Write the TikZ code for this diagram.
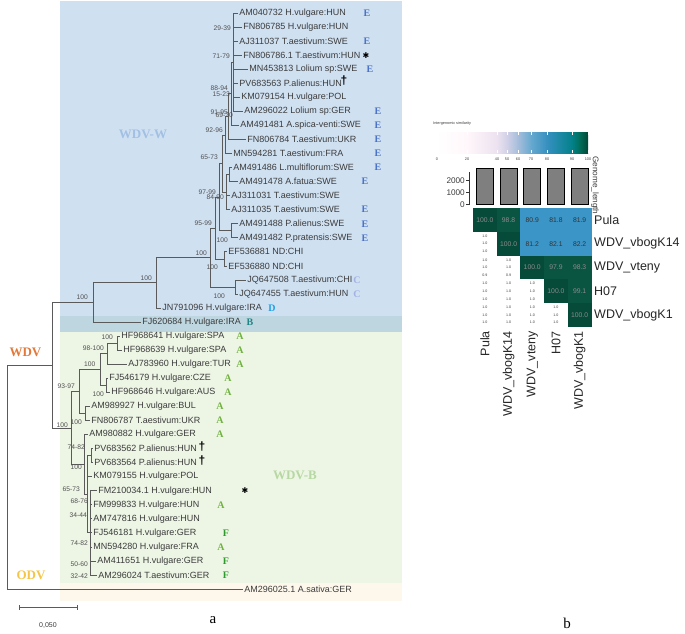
\documentclass[tikz,border=0pt]{standalone}
\usepackage{fontspec}
\setmainfont{Liberation Sans}
\newfontfamily\lsserif{Liberation Serif}
\newfontfamily\djv{DejaVu Sans}
\definecolor{txtgray}{HTML}{3C3C3C}
\definecolor{bootgray}{HTML}{505050}
\definecolor{linegray}{HTML}{5A5A5A}
\definecolor{blueR}{HTML}{CFE0F1}
\definecolor{bandB}{HTML}{BDD6DF}
\definecolor{greenR}{HTML}{EDF5E5}
\definecolor{creamR}{HTML}{FDF8EB}
\definecolor{eblue}{HTML}{4A72C8}
\definecolor{cblue}{HTML}{A3B1E3}
\definecolor{dblue}{HTML}{1E9FE3}
\definecolor{bteal}{HTML}{1F8585}
\definecolor{agreen}{HTML}{72B240}
\definecolor{fgreen}{HTML}{2E9A2E}
\definecolor{wdvorange}{HTML}{E2793A}
\definecolor{odvyellow}{HTML}{F5C548}
\definecolor{wdvwblue}{HTML}{A2C0E4}
\definecolor{wdvbgreen}{HTML}{B7D8A2}
\definecolor{cb0}{HTML}{FFFFFF}
\definecolor{cb1}{HTML}{FFF7FB}
\definecolor{cb2}{HTML}{ECE2F0}
\definecolor{cb3}{HTML}{D0D1E6}
\definecolor{cb4}{HTML}{A6BDDB}
\definecolor{cb5}{HTML}{67A9CF}
\definecolor{cb6}{HTML}{3690C0}
\definecolor{cb7}{HTML}{02818A}
\definecolor{cb8}{HTML}{016C59}
\definecolor{cb9}{HTML}{014636}
\definecolor{hmG}{HTML}{064A39}
\definecolor{hmG2}{HTML}{0A5442}
\definecolor{hmB}{HTML}{3C95C7}
\definecolor{bargray}{HTML}{7F7F7F}
\begin{document}
\begin{tikzpicture}[x=1pt,y=-1pt,
  tip/.style={anchor=west,inner xsep=1.2pt,inner ysep=0pt,font=\fontsize{9}{10}\selectfont,text=txtgray},
  boot/.style={anchor=east,inner sep=0pt,font=\fontsize{6.7}{7}\selectfont,text=bootgray},
  br/.style={draw=linegray,line width=0.75pt},
  lett/.style={inner sep=0pt,font=\lsserif\bfseries\fontsize{10}{10}\selectfont},
  symb/.style={inner sep=0pt,text=black},
  clade/.style={inner sep=0pt,font=\lsserif\bfseries\fontsize{13}{13}\selectfont},
  cellnum/.style={inner sep=0pt,font=\fontsize{6.8}{7}\selectfont},
  tiny/.style={inner sep=0pt,font=\fontsize{3.6}{4}\selectfont,text=txtgray},
  axlab/.style={inner sep=0pt,font=\fontsize{8.2}{9}\selectfont,text=txtgray},
  hmlab/.style={inner sep=0pt,font=\fontsize{12.5}{13}\selectfont,text=black!85}]
\useasboundingbox (0,0) rectangle (685,633);
% clade backgrounds
\fill[blueR] (60,1) rectangle (402,315.5);
\fill[bandB] (60,315.5) rectangle (402,331.5);
\fill[greenR] (60,331.5) rectangle (402,582.5);
\fill[creamR] (60,582.5) rectangle (402,600.5);
% tips
\node[tip] (t0) at (238,13) {AM040732 H.vulgare:HUN};
\node[tip] (t1) at (242,27.05) {FN806785 H.vulgare:HUN};
\node[tip] (t2) at (238,41.1) {AJ311037 T.aestivum:SWE};
\node[tip] (t3) at (242,55.15) {FN806786.1 T.aestivum:HUN};
\node[tip] (t4) at (248,69.2) {MN453813 Lolium sp:SWE};
\node[tip] (t5) at (238,83.25) {PV683563 P.alienus:HUN};
\node[tip] (t6) at (240,97.3) {KM079154 H.vulgare:POL};
\node[tip] (t7) at (243,111.35) {AM296022 Lolium sp:GER};
\node[tip] (t8) at (239,125.4) {AM491481 A.spica-venti:SWE};
\node[tip] (t9) at (246,139.45) {FN806784 T.aestivum:UKR};
\node[tip] (t10) at (232,153.5) {MN594281 T.aestivum:FRA};
\node[tip] (t11) at (232,167.55) {AM491486 L.multiflorum:SWE};
\node[tip] (t12) at (238,181.6) {AM491478 A.fatua:SWE};
\node[tip] (t13) at (230,195.65) {AJ311031 T.aestivum:SWE};
\node[tip] (t14) at (230,209.7) {AJ311035 T.aestivum:SWE};
\node[tip] (t15) at (238,223.75) {AM491488 P.alienus:SWE};
\node[tip] (t16) at (238,237.8) {AM491482 P.pratensis:SWE};
\node[tip] (t17) at (227,251.85) {EF536881 ND:CHI};
\node[tip] (t18) at (227,265.9) {EF536880 ND:CHI};
\node[tip] (t19) at (246,279.95) {JQ647508 T.aestivum:CHI};
\node[tip] (t20) at (238,294) {JQ647455 T.aestivum:HUN};
\node[tip] (t21) at (161,308.05) {JN791096 H.vulgare:IRA};
\node[tip] (t22) at (141,322.1) {FJ620684 H.vulgare:IRA};
\node[tip] (t23) at (120,336.15) {HF968641 H.vulgare:SPA};
\node[tip] (t24) at (122,350.2) {HF968639 H.vulgare:SPA};
\node[tip] (t25) at (127,364.25) {AJ783960 H.vulgare:TUR};
\node[tip] (t26) at (108,378.3) {FJ546179 H.vulgare:CZE};
\node[tip] (t27) at (110,392.35) {HF968646 H.vulgare:AUS};
\node[tip] (t28) at (90,406.4) {AM989927 H.vulgare:BUL};
\node[tip] (t29) at (90,420.45) {FN806787 T.aestivum:UKR};
\node[tip] (t30) at (88,434.5) {AM980882 H.vulgare:GER};
\node[tip] (t31) at (93,448.55) {PV683562 P.alienus:HUN};
\node[tip] (t32) at (93,462.6) {PV683564 P.alienus:HUN};
\node[tip] (t33) at (92,476.65) {KM079155 H.vulgare:POL};
\node[tip] (t34) at (97,490.7) {FM210034.1 H.vulgare:HUN};
\node[tip] (t35) at (92,504.75) {FM999833 H.vulgare:HUN};
\node[tip] (t36) at (92,518.8) {AM747816 H.vulgare:HUN};
\node[tip] (t37) at (92,532.85) {FJ546181 H.vulgare:GER};
\node[tip] (t38) at (92,546.9) {MN594280 H.vulgare:FRA};
\node[tip] (t39) at (96,560.95) {AM411651 H.vulgare:GER};
\node[tip] (t40) at (97,575) {AM296024 T.aestivum:GER};
\node[tip] (t41) at (243,589.05) {AM296025.1 A.sativa:GER};
% internal nodes
\coordinate (nP) at (233,62.18);
\coordinate (nQ) at (231,93.79);
\coordinate (nR) at (228,116.62);
\coordinate (nS) at (225,135.06);
\coordinate (nE1) at (229,174.58);
\coordinate (nE2) at (226,192.14);
\coordinate (nT) at (222,163.6);
\coordinate (nPA) at (231,230.78);
\coordinate (nB) at (219,197.19);
\coordinate (nEF) at (224,258.88);
\coordinate (nA) at (215,228.03);
\coordinate (nJQ) at (235,286.98);
\coordinate (nW2) at (210,257.5);
\coordinate (nW) at (156,282.78);
\coordinate (nWB) at (93,302.44);
\coordinate (nHF) at (117,343.18);
\coordinate (nA2) at (107,353.71);
\coordinate (nFJ) at (106,385.33);
\coordinate (nA3) at (100,369.52);
\coordinate (nBul) at (85,413.43);
\coordinate (nB2) at (79,391.47);
\coordinate (nPV) at (91,455.58);
\coordinate (nLow) at (90,532.85);
\coordinate (nMid) at (87,494.21);
\coordinate (nB5) at (84,464.36);
\coordinate (nB1) at (71,427.9);
\coordinate (nWDV) at (52,365.17);
\coordinate (nRoot) at (7,477.11);
% branches
\draw[br] (nRoot) |- (nWDV);
\draw[br] (nRoot) |- (t41.west);
\draw[br] (nWDV) |- (nWB);
\draw[br] (nWDV) |- (nB1);
\draw[br] (nWB) |- (nW);
\draw[br] (nWB) |- (t22.west);
\draw[br] (nW) |- (nW2);
\draw[br] (nW) |- (t21.west);
\draw[br] (nW2) |- (nA);
\draw[br] (nW2) |- (nJQ);
\foreach \c in {t19,t20} \draw[br] (nJQ) |- (\c.west);
\draw[br] (nA) |- (nB);
\draw[br] (nA) |- (nEF);
\foreach \c in {t17,t18} \draw[br] (nEF) |- (\c.west);
\draw[br] (nB) |- (nT);
\draw[br] (nB) |- (nPA);
\foreach \c in {t15,t16} \draw[br] (nPA) |- (\c.west);
\draw[br] (nT) |- (nS);
\draw[br] (nT) |- (nE2);
\draw[br] (nE2) |- (nE1);
\foreach \c in {t13,t14} \draw[br] (nE2) |- (\c.west);
\foreach \c in {t11,t12} \draw[br] (nE1) |- (\c.west);
\draw[br] (nS) |- (nR);
\draw[br] (nS) |- (t10.west);
\draw[br] (nR) |- (nQ);
\draw[br] (nR) |- (t9.west);
\draw[br] (nQ) |- (nP);
\draw[br] (nQ) |- (t8.west);
\foreach \c in {t0,t1,t2,t3,t4,t5,t6,t7} \draw[br] (nP) |- (\c.west);
\draw[br] (nB1) |- (nB2);
\draw[br] (nB1) |- (nB5);
\draw[br] (nB2) |- (nA3);
\draw[br] (nB2) |- (nBul);
\draw[br] (nA3) |- (nA2);
\draw[br] (nA3) |- (nFJ);
\draw[br] (nA2) |- (nHF);
\draw[br] (nA2) |- (t25.west);
\foreach \c in {t23,t24} \draw[br] (nHF) |- (\c.west);
\foreach \c in {t26,t27} \draw[br] (nFJ) |- (\c.west);
\foreach \c in {t28,t29} \draw[br] (nBul) |- (\c.west);
\draw[br] (nB5) |- (t30.west);
\draw[br] (nB5) |- (nMid);
\draw[br] (nMid) |- (nPV);
\draw[br] (nMid) |- (t33.west);
\draw[br] (nMid) |- (nLow);
\foreach \c in {t31,t32} \draw[br] (nPV) |- (\c.west);
\foreach \c in {t34,t35,t36,t37,t38,t39,t40} \draw[br] (nLow) |- (\c.west);
% bootstrap values
\node[boot] (b1) at (231,28) {29-39};
\node[boot] (b2) at (230,56) {71-79};
\node[boot] (b3) at (228,88) {88-94};
\node[boot] (b4) at (230,94.5) {15-23};
\node[boot] (b5) at (228,112) {91-95};
\node[boot] (b6) at (233,115) {69-70};
\node[boot] (b7) at (223,130.5) {92-96};
\node[boot] (b8) at (218,157) {65-73};
\node[boot] (b9) at (216,192) {97-99};
\node[boot] (b10) at (224,197.5) {84-90};
\node[boot] (b11) at (212,223) {95-99};
\node[boot] (b12) at (228,240.5) {100};
\node[boot] (b13) at (207,253) {100};
\node[boot] (b14) at (218,267.5) {100};
\node[boot] (b15) at (225,296.5) {100};
\node[boot] (b16) at (152,278) {100};
\node[boot] (b17) at (88,297) {100};
\node[boot] (b18) at (113,337) {100};
\node[boot] (b19) at (104,348.5) {98-100};
\node[boot] (b20) at (95.5,364) {100};
\node[boot] (b21) at (104,394) {100};
\node[boot] (b22) at (75,386.5) {93-97};
\node[boot] (b23) at (68,425) {100};
\node[boot] (b24) at (82,422) {100};
\node[boot] (b25) at (85,447) {74-82};
\node[boot] (b26) at (82,467) {100};
\node[boot] (b27) at (80,489) {65-73};
\node[boot] (b28) at (88,501) {68-76};
\node[boot] (b29) at (87,515) {34-44};
\node[boot] (b30) at (88,543) {74-82};
\node[boot] (b31) at (88,564) {50-60};
\node[boot] (b32) at (88,576) {32-42};
% genotype letters
\foreach \x/\y [count=\i] in {367/13,367/41.1,370/69.2,378/111.35,378/125.4,378/139.45,378/153.5,378/167.55,365/181.6,365/209.7,365/223.75,365/237.8}
  \node[lett,text=eblue] (e\i) at (\x,\y) {E};
\node[lett,text=cblue] (c1) at (357,279.95) {C};
\node[lett,text=cblue] (c2) at (357,294) {C};
\node[lett,text=dblue] (d1) at (272,308.05) {D};
\node[lett,text=bteal] (bb1) at (250,322.1) {B};
\foreach \x/\y [count=\i] in {240/336.15,240/350.2,240/364.25,228/378.3,228/392.35,220/406.4,220/420.45,220/434.5,221/504.75,221/546.9}
  \node[lett,text=agreen] (a\i) at (\x,\y) {A};
\foreach \x/\y [count=\i] in {226/532.85,226/560.95,226/575}
  \node[lett,text=fgreen] (f\i) at (\x,\y) {F};
% daggers and asterisks
\node[symb,font=\bfseries\fontsize{12}{12}\selectfont] (dg1) at (344,81) {†};
\node[symb,font=\bfseries\fontsize{12}{12}\selectfont] (dg2) at (202,447) {†};
\node[symb,font=\bfseries\fontsize{12}{12}\selectfont] (dg3) at (202,461) {†};
\node[symb,font=\djv\bfseries\fontsize{8}{8}\selectfont] (as1) at (366,55.15) {✱};
\node[symb,font=\djv\bfseries\fontsize{8}{8}\selectfont] (as2) at (245,490.7) {✱};
% clade names
\node[clade,text=wdvwblue] (lw) at (143,134) {WDV-W};
\node[clade,text=wdvbgreen] (lb) at (295,475) {WDV-B};
\node[clade,text=wdvorange] (lwdv) at (25.5,352) {WDV};
\node[clade,text=odvyellow] (lodv) at (31,575) {ODV};
% scale bar
\coordinate (s1) at (19,607);
\coordinate (s2) at (77,607);
\draw[br] (s1) -- (s2);
\draw[br] ([yshift=-2.5pt]s1) -- ([yshift=2.5pt]s1);
\draw[br] ([yshift=-2.5pt]s2) -- ([yshift=2.5pt]s2);
\node[inner sep=0pt,font=\fontsize{7}{7}\selectfont,text=txtgray] (sl) at (48,625) {0,050};
\node[inner sep=0pt,font=\lsserif\fontsize{15}{15}\selectfont] (pa) at (213,620) {a};
\node[inner sep=0pt,font=\lsserif\fontsize{15}{15}\selectfont] (pb) at (567,623) {b};
% ===== panel b =====
\node[anchor=west,inner sep=0pt,font=\fontsize{3.8}{4}\selectfont,text=txtgray] (cbt) at (433,124) {Intergenomic similarity};
\foreach \xa/\xb/\ca/\cb in {437/467/cb0/cb1,467/497/cb1/cb2,497/507/cb2/cb3,507/518/cb3/cb4,518/531/cb4/cb5,531/547/cb5/cb6,547/572/cb6/cb7,572/580/cb7/cb8,580/588/cb8/cb9}
  \shade[left color=\ca,right color=\cb] (\xa-0.2,132) rectangle (\xb+0.2,153);
\foreach \x/\v in {437/0,467/20,497/40,507/50,518/60,531/70,547/80,572/90,588/100}{
  \draw[white,line width=0.5pt] (\x,132) -- (\x,135);
  \draw[white,line width=0.5pt] (\x,150) -- (\x,153);
  \node[inner sep=0pt,font=\fontsize{3.8}{4}\selectfont,text=txtgray] at (\x,159) {\v};
}
% bar chart
\draw[black!80,line width=0.5pt] (469,172) -- (469,204.5);
\foreach \yv/\lab in {180.5/2000,192.5/1000,204.5/0}{
  \draw[black!80,line width=0.5pt] (466,\yv) -- (469,\yv);
  \node[axlab,anchor=east] at (465,\yv) {\lab};
}
\foreach \cx in {484.85,508.55,532.25,555.95,579.65}
  \draw[fill=bargray,draw=black,line width=0.9pt] (\cx-8.5,168) rectangle (\cx+8.5,204.5);
\node[axlab,anchor=west,rotate=-90] (gl) at (595,156) {Genome\_length};
% heatmap
\fill[hmG] (473,208) rectangle (496.7,231.8);
\fill[hmG2] (496.7,208) rectangle (520.4,231.8);
\fill[hmB] (520.4,208) rectangle (591.5,231.8);
\fill[hmG] (496.7,231.8) rectangle (520.4,255.6);
\fill[hmB] (520.4,231.8) rectangle (591.5,255.6);
\fill[hmG] (520.4,255.6) rectangle (544.1,279.4);
\fill[hmG2] (544.1,255.6) rectangle (591.5,279.4);
\fill[hmG] (544.1,279.4) rectangle (567.8,303.2);
\fill[hmG2] (567.8,279.4) rectangle (591.5,303.2);
\fill[hmG] (567.8,303.2) rectangle (591.5,327);
\foreach \x/\y/\v in {484.85/219.9/100.0,508.55/219.9/98.8,508.55/243.7/100.0,532.25/267.5/100.0,555.95/267.5/97.9,579.65/267.5/98.3,555.95/291.3/100.0,579.65/291.3/99.1,579.65/315.1/100.0}
  \node[cellnum,text=black!45] at (\x,\y) {\v};
\foreach \x/\y/\v in {532.25/219.9/80.9,555.95/219.9/81.8,579.65/219.9/81.9,532.25/243.7/81.2,555.95/243.7/82.1,579.65/243.7/82.2}
  \node[cellnum,text=black!80] at (\x,\y) {\v};
% lower triangle small values
\foreach \x/\y in {484.85/243.7,484.85/291.3,508.55/291.3,532.25/291.3,484.85/315.1,508.55/315.1,532.25/315.1,555.95/315.1}{
  \node[tiny] at (\x,\y-7.6) {1.0};
  \node[tiny] at (\x,\y) {1.0};
  \node[tiny] at (\x,\y+7.6) {1.0};
}
\foreach \x/\y in {484.85/267.5,508.55/267.5}{
  \node[tiny] at (\x,\y-7.6) {1.0};
  \node[tiny] at (\x,\y) {1.0};
  \node[tiny] at (\x,\y+7.6) {0.9};
}
% heatmap labels
\foreach \y/\lab in {219.9/Pula,243.7/WDV\_vbogK14,267.5/WDV\_vteny,291.3/H07,315.1/WDV\_vbogK1}
  \node[hmlab,anchor=west] at (594,\y) {\lab};
\foreach \x/\lab in {484.85/Pula,508.55/WDV\_vbogK14,532.25/WDV\_vteny,555.95/H07,579.65/WDV\_vbogK1}
  \node[hmlab,anchor=east,rotate=90] at (\x,331) {\lab};
\end{tikzpicture}
\end{document}
